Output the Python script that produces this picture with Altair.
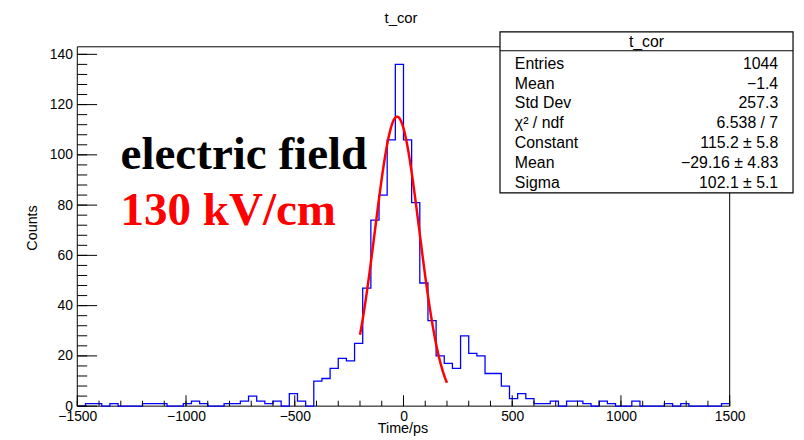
import altair as alt
import pandas as pd

# ---------------- data ----------------
x_start = -1500
bin_width = 37.5
counts = [
    0, 1, 1, 0, 1, 0, 0, 0, 1, 1,      # -1500 .. -1125
    1, 0, 0, 1, 2, 1, 0, 0, 1, 1,      # -1125 .. -750
    2, 4, 2, 1, 2, 0, 5, 2, 0, 10,     # -750 .. -375
    11, 15, 19, 18, 25, 47, 74, 84, 106, 136,   # -375 .. 0
    106, 81, 49, 34, 20, 17, 15, 28, 21, 20,    # 0 .. 375
    13, 13, 8, 3, 5, 3, 1, 1, 2, 0,    # 375 .. 750
    2, 2, 1, 0, 2, 1, 0, 0, 2, 0,      # 750 .. 1125
    0, 0, 1, 0, 1, 0, 0, 0, 0, 1,      # 1125 .. 1500
]

x_major = [-1500, -1000, -500, 0, 500, 1000, 1500]
x_minor = list(range(-1500, 1501, 100))
y_major = [0, 20, 40, 60, 80, 100, 120, 140]
y_minor = list(range(0, 143, 4))

fit_constant = 115.2
fit_mean = -29.16
fit_sigma = 102.1
fit_lo, fit_hi = -200, 200

stat_title = "t_cor"
stat_labels = ["Entries", "Mean", "Std Dev", "χ² / ndf", "Constant", "Mean", "Sigma"]
stat_values = ["1044", "−1.4", "257.3", "6.538 / 7", "115.2 ± 5.8", "−29.16 ± 4.83", "102.1 ± 5.1"]

# ---------------- layout ----------------
W, H = 659, 363
SANS = "Liberation Sans"

edges = [x_start + bin_width * k for k in range(len(counts) + 1)]
hist_df = pd.DataFrame({"x": edges, "y": counts + [counts[-1]]})

xscale = alt.Scale(domain=[-1500, 1500], nice=False, zero=False)
yscale = alt.Scale(domain=[0, 143], nice=False, zero=True)
xaxis = alt.Axis(values=x_major, format="d", title=None, grid=False, ticks=False, domain=False,
                 labelFont=SANS, labelFontSize=14, labelColor="black", labelPadding=4,
                 labelFlush=False, labelOverlap=False)
yaxis = alt.Axis(values=y_major, format="d", title=None, grid=False, ticks=False, domain=False,
                 labelFont=SANS, labelFontSize=14, labelColor="black", labelPadding=5,
                 labelOverlap=False)

dummy = pd.DataFrame({"d": [0]})

frame = alt.Chart(dummy).mark_rect(filled=False, stroke="black", strokeWidth=1).encode(
    x=alt.value(0), x2=alt.value(W), y=alt.value(0), y2=alt.value(H))

hist = alt.Chart(hist_df).mark_line(interpolate="step-after", color="#0000ff",
                                     strokeWidth=1.3).encode(
    x=alt.X("x:Q", scale=xscale, axis=xaxis),
    y=alt.Y("y:Q", scale=yscale, axis=yaxis))

fit = alt.Chart(alt.sequence(fit_lo, fit_hi + 1, 2, as_="t")).transform_calculate(
    c=f"{fit_constant}*exp(-0.5*pow((datum.t-({fit_mean}))/{fit_sigma},2))"
).mark_line(color="#ff0000", strokeWidth=2.5).encode(
    x=alt.X("t:Q", scale=xscale, axis=xaxis),
    y=alt.Y("c:Q", scale=yscale, axis=yaxis))

xmaj = alt.Chart(pd.DataFrame({"v": x_major})).mark_rule(color="black", strokeWidth=1).encode(
    x=alt.X("v:Q", scale=xscale, axis=xaxis), y=alt.value(H), y2=alt.value(H - 11))
xmin = alt.Chart(pd.DataFrame({"v": x_minor})).mark_rule(color="black", strokeWidth=1).encode(
    x=alt.X("v:Q", scale=xscale, axis=xaxis), y=alt.value(H), y2=alt.value(H - 5.5))
ymaj = alt.Chart(pd.DataFrame({"v": y_major})).mark_rule(color="black", strokeWidth=1).encode(
    y=alt.Y("v:Q", scale=yscale, axis=yaxis), x=alt.value(0), x2=alt.value(20))
ymin = alt.Chart(pd.DataFrame({"v": y_minor})).mark_rule(color="black", strokeWidth=1).encode(
    y=alt.Y("v:Q", scale=yscale, axis=yaxis), x=alt.value(0), x2=alt.value(10))

layers = [frame, hist, fit, xmin, xmaj, ymin, ymaj]

# stats box
bx0, bx1, by0, by1, bsep = 427, 723, -15, 147.5, 4
box = alt.Chart(dummy).mark_rect(fill="white", stroke="black", strokeWidth=1.2).encode(
    x=alt.value(bx0), x2=alt.value(bx1), y=alt.value(by0), y2=alt.value(by1))
sep = alt.Chart(dummy).mark_rule(color="black", strokeWidth=1).encode(
    x=alt.value(bx0), x2=alt.value(bx1), y=alt.value(bsep))
layers += [box, sep]

def txt(s, x, y, size=16, align="center", color="black", font=SANS, weight="normal",
        angle=0, baseline="middle"):
    return alt.Chart(dummy).mark_text(text=s, font=font, fontSize=size, align=align,
                                      baseline=baseline, color=color, fontWeight=weight,
                                      angle=angle).encode(x=alt.value(x), y=alt.value(y))

layers.append(txt(stat_title, 575, -5))
row_y = [17.3, 37.3, 57.3, 77.3, 97.7, 117.7, 138.0]
for lab, val, yy in zip(stat_labels, stat_values, row_y):
    layers.append(txt(lab, 442, yy, align="left"))
    layers.append(txt(val, 708, yy, align="right"))

# titles
layers.append(txt("t_cor", 327, -36.5, size=15, baseline="top"))
layers.append(txt("Time/ps", 329, 386, size=14.5))
layers.append(txt("Counts", -45, 183, size=14.5, angle=270))

# annotation
layers.append(txt("electric field", 43.7, 123.3, size=47.5, align="left",
                  font="Liberation Serif", weight="bold", baseline="alphabetic"))
layers.append(txt("130 kV/cm", 43.7, 180, size=47.5, align="left", color="#ff0000",
                  font="Liberation Serif", weight="bold", baseline="alphabetic"))

chart = alt.layer(*layers).properties(
    width=W, height=H,
    padding={"left": 70, "top": 37, "right": 67, "bottom": 32},
    autosize=alt.AutoSizeParams(type="none"),
    background="white",
).configure_view(stroke=None)

chart.save("out.html", embed_options={"renderer": "svg", "actions": False})
